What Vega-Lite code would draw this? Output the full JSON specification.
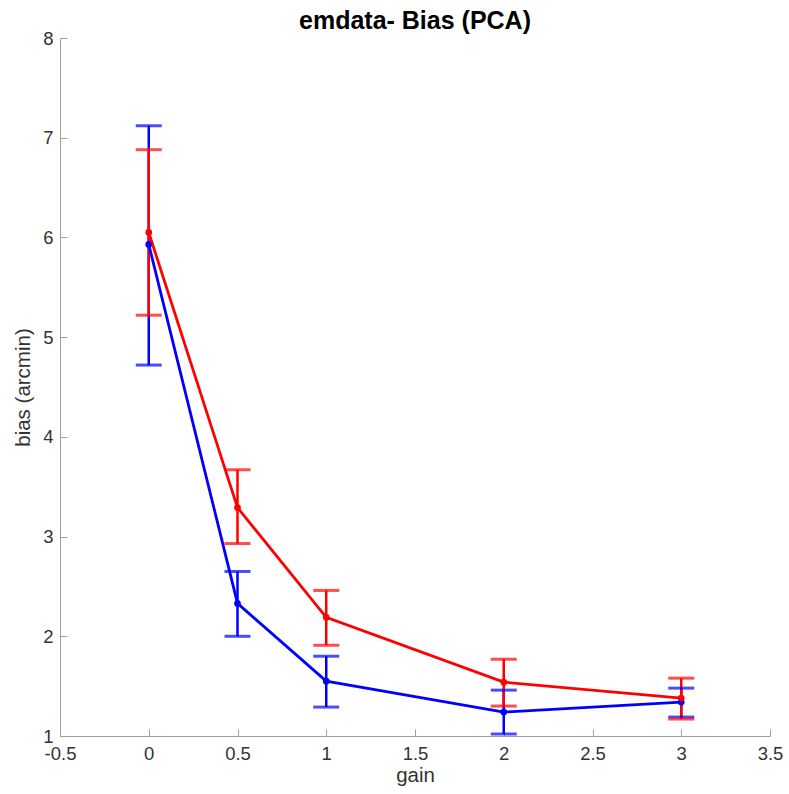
{
  "$schema": "https://vega.github.io/schema/vega-lite/v6.json",
  "width": 710,
  "height": 698,
  "autosize": "none",
  "padding": {"left": 60, "top": 38, "right": 19, "bottom": 58},
  "background": "white",
  "config": {
    "view": {"stroke": null},
    "font": "Liberation Sans",
    "axis": {
      "grid": false,
      "domainColor": "#a0a0a0",
      "tickColor": "#a0a0a0",
      "tickSize": -7,
      "labelColor": "#333333",
      "titleColor": "#333333",
      "labelFontSize": 18.5,
      "titleFontSize": 20.5,
      "titleFontWeight": "normal",
      "labelFont": "Liberation Sans",
      "titleFont": "Liberation Sans",
      "labelExpr": "'' + datum.value"
    }
  },
  "title": {
    "text": "emdata- Bias (PCA)",
    "fontSize": 25,
    "fontWeight": "bold",
    "color": "#000000",
    "font": "Liberation Sans",
    "offset": 0,
    "dy": 5
  },
  "data": {
    "values": [
      {"series": "blue", "gain": 0, "bias": 5.93, "lo": 4.72, "hi": 7.12},
      {"series": "blue", "gain": 0.5, "bias": 2.33, "lo": 2.0, "hi": 2.65},
      {"series": "blue", "gain": 1, "bias": 1.55, "lo": 1.29, "hi": 1.8},
      {"series": "blue", "gain": 2, "bias": 1.24, "lo": 1.02, "hi": 1.46},
      {"series": "blue", "gain": 3, "bias": 1.34, "lo": 1.19, "hi": 1.48},
      {"series": "red", "gain": 0, "bias": 6.05, "lo": 5.22, "hi": 6.88},
      {"series": "red", "gain": 0.5, "bias": 3.29, "lo": 2.93, "hi": 3.67},
      {"series": "red", "gain": 1, "bias": 2.19, "lo": 1.91, "hi": 2.46},
      {"series": "red", "gain": 2, "bias": 1.54, "lo": 1.3, "hi": 1.77},
      {"series": "red", "gain": 3, "bias": 1.38, "lo": 1.17, "hi": 1.58}
    ]
  },
  "encoding": {
    "x": {
      "field": "gain", "type": "quantitative",
      "scale": {"domain": [-0.5, 3.5], "nice": false, "zero": false},
      "axis": {"values": [-0.5, 0, 0.5, 1, 1.5, 2, 2.5, 3, 3.5], "title": "gain", "labelPadding": 15, "titleY": 29, "titleBaseline": "top", "labelFlush": false}
    },
    "color": {
      "field": "series", "type": "nominal",
      "scale": {"domain": ["blue", "red"], "range": ["#0000ff", "#ff0000"]},
      "legend": null
    },
    "order": {"field": "series"}
  },
  "layer": [
    {
      "mark": {"type": "rule", "strokeWidth": 2.5},
      "encoding": {
        "y": {
          "field": "lo", "type": "quantitative",
          "scale": {"domain": [1, 8], "nice": false, "zero": false},
          "axis": {"values": [1, 2, 3, 4, 5, 6, 7, 8], "title": "bias (arcmin)", "labelPadding": 14, "titleX": -27}
        },
        "y2": {"field": "hi"}
      }
    },
    {
      "mark": {"type": "tick", "orient": "horizontal", "size": 26, "thickness": 3},
      "encoding": {"y": {"field": "lo", "type": "quantitative"}}
    },
    {
      "mark": {"type": "tick", "orient": "horizontal", "size": 26, "thickness": 3},
      "encoding": {"y": {"field": "hi", "type": "quantitative"}}
    },
    {
      "mark": {"type": "line", "strokeWidth": 2.8, "point": {"filled": true, "size": 45}},
      "encoding": {
        "y": {"field": "bias", "type": "quantitative"},
        "detail": {"field": "series"}
      }
    }
  ]
}
